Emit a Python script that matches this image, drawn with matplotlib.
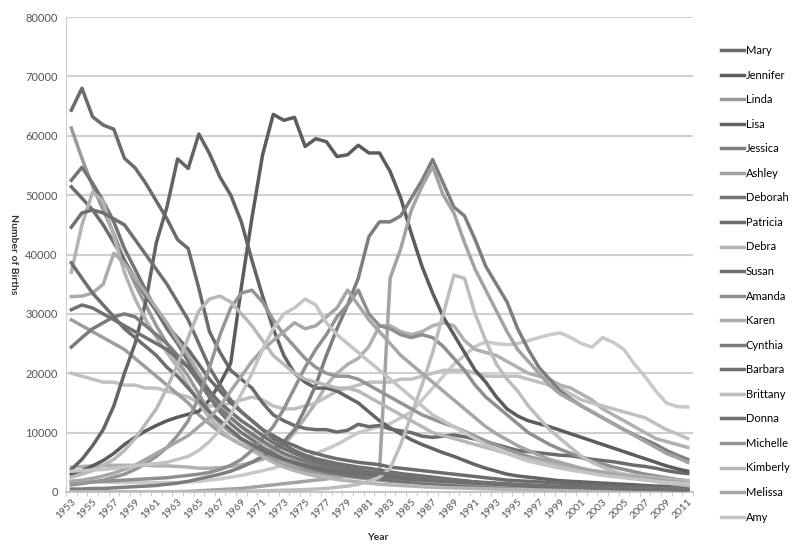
import matplotlib
matplotlib.use("Agg")
import matplotlib.pyplot as plt
import numpy as np

plt.rcParams['font.family'] = ['Lato', 'DejaVu Sans']

years = list(range(1953, 2012))

mary = [64.3, 68.0, 63.2, 61.8, 61.1, 56.2, 54.6, 52.0, 49.0, 46.0,
        42.5, 41.0, 34.3, 27.0, 23.5, 20.5, 19.0, 17.5, 15.0, 13.0,
        12.0, 11.2, 10.7, 10.5, 10.5, 10.1, 10.4, 11.4, 11.0, 11.2,
        10.6, 10.3, 10.0, 9.4, 9.2, 9.4, 9.6, 9.3, 8.9, 8.4,
        8.0, 7.5, 7.0, 6.8, 6.6, 6.4, 6.2, 6.1, 5.8, 5.5,
        5.3, 5.1, 4.8, 4.5, 4.3, 4.0, 3.6, 3.3, 3.1]
jennifer = [3.0, 3.6, 4.4, 5.3, 6.5, 8.0, 9.2, 10.3, 11.2, 12.0,
            12.6, 13.1, 13.6, 15.5, 18.3, 21.7, 34.5, 46.2, 56.8, 63.6,
            62.6, 63.1, 58.2, 59.5, 59.0, 56.5, 56.8, 58.4, 57.1, 57.1,
            54.0, 49.5, 43.5, 38.0, 33.5, 29.5, 26.5, 23.5, 20.5, 18.5,
            16.0, 14.0, 12.8, 12.0, 11.5, 11.0, 10.4, 9.8, 9.2, 8.6,
            8.0, 7.4, 6.8, 6.2, 5.6, 5.0, 4.4, 3.9, 3.5]
linda = [61.3, 56.2, 51.5, 47.5, 43.5, 39.0, 35.0, 31.5, 28.0, 25.0,
         22.0, 19.5, 16.5, 13.5, 11.5, 10.0, 8.8, 7.8, 6.5, 5.3,
         4.5, 4.0, 3.6, 3.3, 3.0, 2.8, 2.6, 2.4, 2.2, 2.0,
         1.8, 1.7, 1.6, 1.5, 1.4, 1.3, 1.2, 1.1, 1.0, 0.9,
         0.85, 0.8, 0.7, 0.65, 0.6, 0.55, 0.5, 0.5, 0.45, 0.42,
         0.4, 0.38, 0.36, 0.34, 0.32, 0.3, 0.28, 0.27, 0.26]
lisa = [3.8, 5.5, 7.8, 10.5, 14.5, 20.0, 25.0, 32.0, 42.0, 48.0,
        56.1, 54.5, 60.3, 57.0, 53.0, 50.0, 45.5, 39.0, 33.0, 27.5,
        23.0, 20.0, 18.5, 17.5, 17.5, 17.0, 16.0, 15.0, 13.5, 12.0,
        10.8, 9.8, 8.8, 8.0, 7.3, 6.6, 6.0, 5.3, 4.6, 4.0,
        3.5, 3.0, 2.7, 2.5, 2.3, 2.1, 1.9, 1.8, 1.7, 1.6,
        1.5, 1.4, 1.3, 1.2, 1.1, 1.0, 0.95, 0.9, 0.85]
jessica = [0.5, 0.5, 0.6, 0.6, 0.7, 0.8, 0.9, 1.0, 1.1, 1.3,
           1.5, 1.8, 2.2, 2.6, 3.0, 3.5, 4.2, 5.0, 6.0, 7.2,
           8.5, 10.5, 14.0, 18.0, 23.0, 27.5, 31.5, 36.0, 43.0, 45.5,
           45.5, 46.5, 49.5, 52.5, 56.0, 52.0, 48.0, 46.5, 42.5, 38.0,
           35.0, 32.0, 27.5, 24.0, 21.0, 19.0, 17.0, 15.7, 14.5, 13.5,
           12.5, 11.5, 10.5, 9.6, 8.8, 8.0, 7.0, 6.2, 5.5]
ashley = [0.0, 0.0, 0.0, 0.0, 0.0, 0.0, 0.0, 0.0, 0.0, 0.0,
          0.05, 0.1, 0.2, 0.3, 0.4, 0.5, 0.6, 0.8, 1.0, 1.2,
          1.4, 1.6, 1.8, 2.0, 2.2, 2.5, 2.7, 3.0, 3.2, 3.5,
          36.0, 41.0, 47.5, 51.5, 54.8, 50.0, 47.0, 42.0, 37.5, 34.0,
          30.5, 27.0, 24.0, 22.0, 20.0, 18.0, 16.5, 15.5, 14.5, 13.5,
          12.5, 11.5, 10.5, 9.5, 8.5, 7.5, 6.5, 5.8, 5.0]
deborah = [52.5, 54.7, 52.0, 49.0, 45.5, 41.0, 37.5, 34.0, 30.5, 27.5,
           25.0, 22.0, 19.0, 16.0, 13.5, 11.5, 10.0, 8.8, 7.5, 6.5,
           5.6, 4.9, 4.3, 3.8, 3.4, 3.1, 2.8, 2.6, 2.4, 2.2,
           2.0, 1.8, 1.7, 1.5, 1.4, 1.3, 1.2, 1.1, 1.0, 0.9,
           0.8, 0.75, 0.7, 0.65, 0.6, 0.55, 0.5, 0.5, 0.45, 0.42,
           0.4, 0.38, 0.36, 0.34, 0.32, 0.3, 0.28, 0.27, 0.26]
patricia = [51.4, 49.5, 47.5, 45.0, 42.0, 39.0, 36.0, 33.0, 30.5, 28.0,
            26.0, 24.0, 21.5, 19.0, 17.0, 15.0, 13.5, 12.0, 10.5, 9.5,
            8.5, 7.8, 7.0, 6.5, 6.0, 5.6, 5.3, 5.0, 4.8, 4.6,
            4.2, 4.0, 3.8, 3.6, 3.4, 3.2, 3.0, 2.8, 2.6, 2.4,
            2.2, 2.0, 1.9, 1.8, 1.7, 1.6, 1.5, 1.4, 1.3, 1.2,
            1.1, 1.0, 0.95, 0.9, 0.85, 0.8, 0.75, 0.7, 0.65]
debra = [37.0, 45.0, 50.5, 49.0, 43.0, 37.0, 32.5, 29.0, 26.0, 23.5,
         21.0, 18.0, 15.0, 12.5, 10.5, 9.0, 8.0, 7.0, 6.0, 5.0,
         4.2, 3.6, 3.1, 2.7, 2.4, 2.1, 1.9, 1.7, 1.5, 1.3,
         1.2, 1.1, 1.0, 0.9, 0.8, 0.75, 0.7, 0.65, 0.6, 0.55,
         0.5, 0.45, 0.4, 0.38, 0.35, 0.33, 0.3, 0.28, 0.26, 0.24,
         0.22, 0.2, 0.19, 0.18, 0.17, 0.16, 0.15, 0.14, 0.13]
susan = [44.6, 47.0, 47.5, 47.0, 46.0, 45.0, 42.5, 40.0, 37.5, 35.0,
         32.0, 29.0, 25.0, 21.0, 18.0, 15.5, 13.5, 12.0, 10.5, 9.0,
         8.0, 7.0, 6.2, 5.6, 5.2, 4.8, 4.5, 4.2, 4.0, 3.7,
         3.4, 3.1, 2.9, 2.7, 2.5, 2.3, 2.1, 1.9, 1.7, 1.5,
         1.4, 1.3, 1.2, 1.1, 1.0, 0.95, 0.9, 0.85, 0.8, 0.75,
         0.7, 0.65, 0.6, 0.55, 0.5, 0.48, 0.45, 0.42, 0.4]
amanda = [1.5, 1.6, 1.7, 1.8, 1.9, 2.0, 2.1, 2.2, 2.3, 2.4,
          2.6, 2.8, 3.0, 3.3, 3.8, 4.5, 5.5, 7.0, 9.0, 11.0,
          14.0, 17.5, 21.0, 24.0, 26.5, 29.5, 31.5, 34.0, 30.0, 28.0,
          27.5, 26.5, 26.0, 26.5, 26.0, 24.5, 22.5, 20.5, 18.0, 16.0,
          14.5, 13.0, 11.5, 10.0, 9.0, 8.0, 7.2, 6.5, 5.8, 5.2,
          4.7, 4.2, 3.8, 3.4, 3.0, 2.7, 2.4, 2.1, 1.9]
karen = [32.9, 33.0, 33.5, 35.0, 40.2, 38.5, 36.0, 33.5, 31.0, 28.5,
         25.5, 23.0, 20.0, 17.0, 14.5, 12.5, 11.0, 9.5, 8.3, 7.2,
         6.3, 5.6, 5.0, 4.5, 4.1, 3.7, 3.4, 3.1, 2.9, 2.7,
         2.5, 2.3, 2.1, 1.9, 1.8, 1.7, 1.6, 1.5, 1.4, 1.3,
         1.2, 1.1, 1.0, 0.95, 0.9, 0.85, 0.8, 0.75, 0.7, 0.65,
         0.6, 0.55, 0.52, 0.5, 0.47, 0.44, 0.42, 0.4, 0.38]
cynthia = [24.4, 26.0, 27.5, 28.5, 29.5, 30.0, 29.5, 28.0, 26.5, 25.0,
           23.0, 21.0, 18.5, 16.0, 14.0, 12.5, 11.0, 9.8, 8.6, 7.5,
           6.5, 5.8, 5.2, 4.7, 4.3, 4.0, 3.7, 3.4, 3.1, 2.9,
           2.7, 2.5, 2.3, 2.1, 2.0, 1.9, 1.8, 1.7, 1.6, 1.5,
           1.4, 1.3, 1.2, 1.1, 1.0, 0.95, 0.9, 0.85, 0.8, 0.75,
           0.7, 0.65, 0.6, 0.55, 0.5, 0.48, 0.45, 0.42, 0.4]
barbara = [38.6, 36.0, 33.5, 31.5, 29.5, 27.5, 26.0, 24.5, 23.0, 21.0,
           19.5, 17.5, 15.5, 13.5, 12.0, 10.5, 9.0, 8.0, 7.0, 6.2,
           5.5, 5.0, 4.5, 4.1, 3.8, 3.5, 3.3, 3.1, 2.9, 2.7,
           2.5, 2.3, 2.1, 2.0, 1.9, 1.8, 1.7, 1.6, 1.5, 1.4,
           1.3, 1.2, 1.1, 1.0, 0.95, 0.9, 0.85, 0.8, 0.75, 0.7,
           0.65, 0.6, 0.55, 0.5, 0.48, 0.45, 0.42, 0.4, 0.38]
brittany = [0.0, 0.0, 0.0, 0.0, 0.0, 0.0, 0.0, 0.0, 0.0, 0.0,
            0.0, 0.0, 0.0, 0.0, 0.05, 0.1, 0.1, 0.15, 0.2, 0.25,
            0.3, 0.35, 0.4, 0.5, 0.6, 0.8, 1.0, 1.3, 1.8, 2.5,
            4.0, 8.0, 13.0, 18.0, 23.5, 30.0, 36.5, 36.0, 30.0, 25.5,
            21.5, 19.0, 17.0, 14.5, 12.5, 10.5, 9.0, 7.5, 6.0, 5.0,
            4.2, 3.5, 3.0, 2.5, 2.1, 1.8, 1.5, 1.3, 1.1]
donna = [30.7, 31.5, 31.0, 30.0, 29.0, 28.0, 27.0, 26.0, 25.0, 24.0,
         22.5, 21.0, 19.0, 17.0, 15.0, 13.5, 12.0, 10.8, 9.5, 8.3,
         7.3, 6.5, 5.8, 5.2, 4.7, 4.3, 4.0, 3.7, 3.4, 3.2,
         3.0, 2.8, 2.6, 2.4, 2.2, 2.0, 1.9, 1.8, 1.7, 1.6,
         1.5, 1.4, 1.3, 1.2, 1.1, 1.0, 0.95, 0.9, 0.85, 0.8,
         0.75, 0.7, 0.65, 0.6, 0.55, 0.5, 0.47, 0.44, 0.4]
michelle = [1.2, 1.4, 1.7, 2.0, 2.5, 3.0, 3.8, 4.8, 6.0, 7.5,
            9.5, 12.0, 16.0, 21.0, 26.5, 31.0, 33.5, 34.0, 32.0, 29.0,
            26.5, 24.5, 22.5, 21.0, 20.0, 19.5, 19.5, 19.0, 18.0, 17.0,
            16.0, 15.0, 14.0, 13.0, 12.3, 11.6, 11.0, 10.2, 9.4, 8.6,
            7.9, 7.2, 6.6, 6.0, 5.5, 5.0, 4.6, 4.2, 3.8, 3.5,
            3.2, 2.9, 2.7, 2.5, 2.3, 2.1, 1.9, 1.8, 1.7]
kimberly = [2.5, 3.0, 3.6, 4.5, 5.5, 7.0, 9.0, 11.5, 14.0, 17.5,
            21.5, 26.0, 30.5, 32.5, 33.0, 32.0, 30.0, 28.0, 25.5, 23.0,
            21.5, 20.0, 19.0, 18.5, 18.0, 17.5, 17.5, 17.0, 16.0, 15.0,
            14.0, 13.0, 12.0, 11.0, 10.0, 9.5, 9.0, 8.5, 8.0, 7.5,
            7.0, 6.5, 6.0, 5.6, 5.2, 4.8, 4.4, 4.2, 3.9, 3.6,
            3.4, 3.2, 3.0, 2.8, 2.6, 2.4, 2.2, 2.0, 1.9]
melissa = [1.8, 2.0, 2.3, 2.7, 3.2, 3.8, 4.5, 5.5, 6.5, 7.5,
           8.5, 9.5, 11.0, 12.5, 14.5, 17.0, 19.5, 22.0, 24.0, 25.5,
           27.0, 28.5, 27.5, 28.0, 29.5, 31.0, 34.0, 31.5, 29.0, 27.0,
           25.0, 23.0, 21.5, 20.0, 18.5, 17.0, 15.5, 14.0, 12.5, 11.0,
           9.8, 8.8, 7.8, 7.0, 6.2, 5.5, 5.0, 4.5, 4.0, 3.6,
           3.3, 3.0, 2.7, 2.5, 2.3, 2.1, 1.9, 1.7, 1.5]
amy = [3.5, 3.6, 3.7, 3.8, 4.0, 4.2, 4.4, 4.6, 4.8, 5.0,
       5.5, 6.0, 7.0, 8.5, 10.5, 13.0, 16.5, 20.0, 24.0, 27.5,
       30.0, 31.0, 32.5, 31.5, 28.5, 26.5, 25.0, 23.5, 22.0, 20.5,
       19.0, 17.5, 16.0, 14.5, 13.0, 12.0, 11.0, 10.0, 9.0, 8.0,
       7.2, 6.5, 5.8, 5.2, 4.8, 4.4, 4.0, 3.7, 3.4, 3.1,
       2.8, 2.6, 2.4, 2.2, 2.0, 1.8, 1.6, 1.5, 1.4]
# series drawn in the chart whose legend entries are cut off
emily = [1.8, 1.8, 1.7, 1.7, 1.6, 1.6, 1.6, 1.6, 1.6, 1.6,
         1.6, 1.7, 1.8, 2.0, 2.2, 2.5, 2.8, 3.2, 3.6, 4.0,
         4.6, 5.2, 5.8, 6.5, 7.2, 8.0, 9.0, 10.0, 10.5, 11.0,
         11.5, 12.5, 13.5, 15.5, 17.5, 19.5, 21.5, 23.0, 24.5, 25.3,
         25.0, 24.8, 25.0, 25.5, 26.0, 26.5, 26.8, 26.0, 25.0, 24.4,
         26.0, 25.2, 24.0, 21.5, 19.4, 17.0, 15.0, 14.4, 14.3]
sarah = [4.2, 4.3, 4.4, 4.5, 4.5, 4.5, 4.5, 4.5, 4.4, 4.4,
         4.3, 4.2, 4.0, 4.0, 4.1, 4.3, 4.6, 5.0, 5.5, 6.5,
         8.0, 10.0, 12.5, 15.0, 18.0, 20.0, 21.5, 22.5, 24.5, 28.0,
         28.0, 27.0, 26.5, 27.0, 28.0, 28.5, 28.0, 25.5, 24.0, 23.5,
         23.0, 22.0, 21.0, 20.0, 19.5, 19.0, 18.0, 17.5, 16.5, 15.5,
         14.0, 13.0, 12.0, 11.0, 10.0, 9.0, 8.5, 8.0, 7.5]
elizabeth = [20.0, 19.5, 19.0, 18.5, 18.5, 18.0, 18.0, 17.5, 17.5, 17.0,
             16.5, 16.0, 15.0, 14.5, 14.5, 15.0, 15.5, 16.0, 15.5, 14.5,
             14.0, 14.0, 14.5, 15.0, 16.0, 17.0, 17.5, 18.0, 18.5, 18.5,
             18.5, 19.0, 19.0, 19.5, 20.0, 20.5, 20.5, 20.5, 20.0, 19.5,
             19.5, 19.5, 19.5, 19.0, 18.5, 18.0, 17.5, 16.5, 15.5, 15.0,
             14.5, 14.0, 13.5, 13.0, 12.5, 11.5, 10.5, 9.8, 9.0]
nancy = [29.0, 28.0, 27.0, 26.0, 25.0, 24.0, 22.5, 21.0, 19.5, 18.0,
         16.5, 15.0, 13.0, 11.5, 10.0, 9.0, 8.0, 7.2, 6.5, 5.8,
         5.2, 4.6, 4.1, 3.7, 3.4, 3.1, 2.9, 2.7, 2.5, 2.3,
         2.1, 1.9, 1.8, 1.6, 1.5, 1.4, 1.3, 1.2, 1.1, 1.0,
         0.9, 0.85, 0.8, 0.75, 0.7, 0.65, 0.6, 0.55, 0.5, 0.5,
         0.45, 0.42, 0.4, 0.38, 0.36, 0.34, 0.32, 0.3, 0.28]

names = ["Mary", "Jennifer", "Linda", "Lisa", "Jessica", "Ashley", "Deborah",
         "Patricia", "Debra", "Susan", "Amanda", "Karen", "Cynthia", "Barbara",
         "Brittany", "Donna", "Michelle", "Kimberly", "Melissa", "Amy"]
series = [mary, jennifer, linda, lisa, jessica, ashley, deborah, patricia, debra,
          susan, amanda, karen, cynthia, barbara, brittany, donna, michelle,
          kimberly, melissa, amy]
colors = ["#6b6b6b", "#5c5c5c", "#9a9a9a", "#646464", "#7e7e7e", "#a3a3a3",
          "#747474", "#6c6c6c", "#b3b3b3", "#707070", "#8f8f8f", "#ababab",
          "#7a7a7a", "#6e6e6e", "#bdbdbd", "#717171", "#959595", "#b8b8b8",
          "#a6a6a6", "#c4c4c4"]
extra_series = [emily, sarah, elizabeth, nancy]
extra_colors = ["#c9c9c9", "#b0b0b0", "#c0c0c0", "#9e9e9e"]

fig = plt.figure(figsize=(7.93, 5.47), dpi=100)
ax = fig.add_axes([66/793, (547-492)/547, (693-66)/793, (492-17)/547])

x = np.arange(len(years))
for s, c in zip(extra_series, extra_colors):
    ax.plot(x, np.array(s) * 1000, color=c, lw=2.5, solid_joinstyle='round', zorder=2)
handles = []
for name, s, c in zip(names, series, colors):
    h, = ax.plot(x, np.array(s) * 1000, color=c, lw=2.5, label=name,
                 solid_joinstyle='round', zorder=3)
    handles.append(h)

ax.set_xlim(-0.5, len(years) - 0.5)
ax.set_ylim(0, 80000)
ax.set_yticks(range(0, 80001, 10000))
ax.set_yticklabels([str(v) for v in range(0, 80001, 10000)], fontsize=8, color="#555555")
ax.set_xticks(x[::2])
ax.set_xticklabels([str(y) for y in years[::2]], rotation=45, ha='right',
                   rotation_mode='anchor', fontsize=7.5, color="#555555")
ax.set_xticks(np.arange(-0.5, len(years), 1), minor=True)
ax.tick_params(axis='y', length=0, pad=6)
ax.tick_params(axis='x', which='major', length=0, pad=4)
ax.tick_params(axis='x', which='minor', length=3, color="#c0c0c0")
ax.grid(axis='y', color="#d0d0d0", lw=1.5, zorder=0)
ax.set_axisbelow(True)
for side in ['top', 'right']:
    ax.spines[side].set_visible(False)
ax.spines['left'].set_color("#d0d0d0")
ax.spines['bottom'].set_color("#c8c8c8")
ax.spines['bottom'].set_linewidth(1.5)

fig.text(378/793, 1 - 537/547, "Year", ha='center', va='center', fontsize=7.5,
         fontweight='bold', color="#333333")
fig.text(13/793, 1 - 254/547, "Number of Births", ha='center', va='center', fontsize=7.5,
         fontweight='bold', rotation=270, color="#333333")

fig.legend(handles=handles, loc='upper left', bbox_to_anchor=(721/793, 1 - 45/547),
           frameon=False, fontsize=8, handlelength=2.1, handletextpad=0.15,
           labelspacing=1.22, borderpad=0, borderaxespad=0)

fig.savefig("out.png", dpi=100)
